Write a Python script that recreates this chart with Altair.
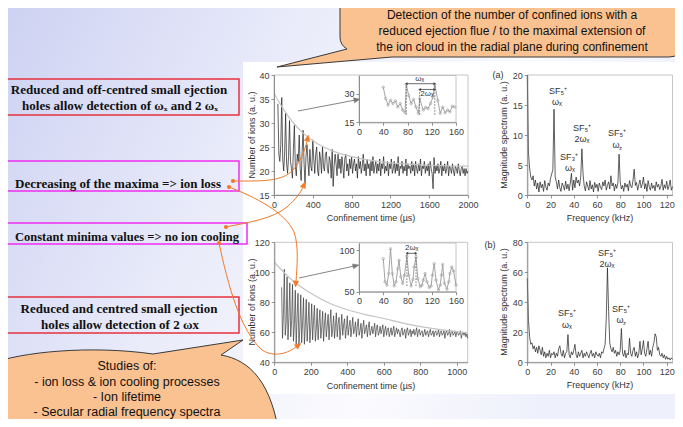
import altair as alt
import pandas as pd

W, H, M = 667, 411, 8  # chart size, page margin

# ---------------- data ----------------
# top-left: number of ions vs confinement time (us)
t_top = list(range(40, 2001, 10))
ions_top = [
    34.0, 23.5, 22.0, 25.5, 35.3, 22.5, 20.0, 24.0, 32.0, 21.5,
    19.5, 23.0, 30.5, 22.0, 20.5, 18.5, 24.5, 29.5, 21.0, 19.0,
    23.5, 22.0, 27.5, 20.5, 18.0, 24.0, 28.5, 21.5, 17.5, 23.0,
    25.5, 22.0, 19.0, 24.5, 21.0, 20.0, 26.5, 22.5, 19.5, 23.5,
    25.0, 20.0, 19.0, 24.0, 22.5, 19.5, 25.0, 21.0, 20.0, 23.5,
    24.0, 20.5, 19.5, 23.0, 22.0, 18.5, 24.5, 16.8, 21.0, 23.5,
    21.5, 19.0, 23.5, 20.5, 22.5, 19.5, 23.0, 21.0, 18.5, 22.5,
    23.5, 20.0, 21.5, 19.0, 22.5, 20.5, 23.0, 19.5, 21.5, 22.5,
    20.0, 21.5, 18.5, 23.0, 20.5, 22.0, 19.5, 21.0, 23.5, 20.0,
    21.5, 19.0, 22.5, 20.5, 21.5, 19.0, 22.0, 20.0, 23.0, 19.5,
    21.0, 22.0, 19.5, 21.5, 20.0, 22.5, 19.0, 21.5, 20.5, 23.0,
    19.5, 21.0, 20.0, 22.0, 19.0, 21.5, 20.5, 22.5, 19.5, 20.5,
    22.0, 19.5, 21.5, 20.0, 23.0, 19.0, 21.0, 20.5, 22.0, 19.5,
    21.0, 20.0, 22.5, 19.0, 21.5, 20.5, 21.0, 19.5, 22.0, 20.0,
    21.5, 19.0, 22.0, 20.5, 19.5, 21.5, 20.0, 22.5, 19.0, 21.0,
    20.5, 22.0, 19.5, 21.0, 20.0, 21.5, 19.0, 22.0, 20.5, 19.5,
    16.3, 22.8, 19.5, 21.0, 20.0, 21.5, 19.5, 20.5, 22.0, 19.0,
    21.0, 20.0, 21.5, 19.5, 20.5, 22.0, 19.0, 21.0, 20.5, 19.5,
    21.5, 20.0, 19.0, 21.0, 20.5, 19.5, 21.5, 20.0, 19.0, 20.5,
    21.0, 19.5, 20.5, 19.0, 20.5, 19.5, 20.0,
]
env_top_t = [0, 100, 200, 300, 400, 500, 600, 800, 1000, 1200, 1500, 2000]
env_top_v = [36.2, 32.8, 30.0, 27.9, 26.3, 25.1, 24.2, 23.0, 22.2, 21.7, 21.3, 21.0]

# top inset
ins_top_t = [40, 44, 48, 52, 56, 60, 64, 68, 72, 76, 78, 82, 86, 90, 94, 98, 100,
             106, 110, 114, 118, 122, 125, 130, 134, 138, 142, 146, 150, 154, 158]
ins_top_v = [33.4, 27.4, 24.0, 26.5, 24.8, 26.2, 23.0, 24.8, 21.4, 20.0, 34.8, 29.0,
             24.8, 27.0, 23.0, 19.7, 27.4, 21.4, 22.8, 22.2, 24.8, 28.3, 34.8, 26.5,
             19.7, 23.0, 20.0, 21.4, 20.5, 23.4, 23.0]

# top-right spectrum (a)
freq = list(range(0, 126))
mag_a = [
    20, 7, 4.5, 3, 2.5, 3.2, 1.5, 2.5, 1, 2,
    0.5, 2.2, 1.2, 1.8, 0.6, 2.4, 1.3, 0.8, 2, 1.5,
    2.8, 3.5, 4.2, 14.3, 3, 2.2, 1, 2.5, 1.2, 0.6,
    2, 1.5, 0.8, 2.3, 1, 1.8, 0.7, 2, 3.6, 0.8,
    2.5, 1.2, 3, 2, 2.5, 1.5, 3, 7.7, 3.5, 1.5,
    0.7, 2.2, 1.5, 0.8, 2.4, 1, 1.7, 0.5, 2.1, 1.2,
    1.8, 0.6, 2, 1.3, 0.9, 2.2, 1.5, 2.5, 0.8, 1.6,
    2.2, 1, 3.2, 1.5, 2, 0.7, 1.8, 1.1, 2, 6.8,
    2.2, 1, 1.6, 0.6, 2, 1.3, 1.8, 0.7, 2.4, 1.5,
    1.2, 2.5, 4.3, 1.6, 2.1, 0.8, 1.7, 2.5, 1.2, 1.8,
    3, 1, 1.9, 0.6, 2.4, 1.4, 0.8, 2, 1.1, 1.6,
    0.7, 2.2, 1.3, 1.8, 0.9, 1.5, 2.6, 0.8, 1.7, 1.1,
    2.3, 0.9, 1.5, 2.5, 0.8, 1.4,
]

# bottom-left: number of ions vs confinement time (us)
t_bot = list(range(40, 1061, 5))
ions_bot = [
    90, 56, 72, 102, 58, 66, 97, 55, 70, 93,
    57, 68, 92, 54, 65, 88, 52, 70, 86, 51,
    63, 85, 53, 67, 83, 52, 64, 82, 54, 66,
    80, 53, 63, 79, 55, 68, 78, 54, 62, 76,
    55, 66, 75, 56, 63, 74, 54, 65, 73, 57,
    64, 72, 55, 66, 75, 57, 62, 71, 56, 64,
    73, 57, 66, 70, 55, 63, 72, 58, 65, 69,
    56, 62, 71, 58, 64, 68, 57, 63, 70, 59,
    62, 67, 57, 64, 69, 58, 61, 66, 56, 63,
    68, 59, 62, 65, 57, 63, 67, 58, 61, 64,
    59, 62, 66, 57, 63, 65, 58, 60, 64, 59,
    62, 65, 57, 61, 64, 58, 62, 63, 57, 60,
    63, 58, 61, 64, 57, 60, 63, 59, 62, 60,
    57, 61, 63, 58, 60, 62, 56, 61, 63, 58,
    60, 62, 57, 61, 59, 62, 58, 60, 63, 57,
    61, 62, 58, 60, 61, 57, 59, 62, 58, 60,
    61, 57, 60, 62, 58, 59, 61, 57, 60, 61,
    58, 59, 62, 57, 60, 61, 58, 59, 61, 56,
    60, 61, 58, 59, 62, 57, 60, 61, 58, 59,
    61, 57, 60, 60, 58, 59, 61, 56, 59, 60,
    58, 60, 57, 59, 56,
]
env_bot_t = [0, 100, 200, 300, 400, 500, 600, 700, 800, 900, 1000, 1060]
env_bot_v = [106.7, 94.5, 86.0, 79.5, 75.0, 71.8, 69.2, 66.3, 63.8, 62.0, 60.5, 59.8]

# bottom inset
ins_bot_t = [40, 43, 46, 49, 52, 55, 58, 61, 64, 66, 69, 72, 75, 79, 82, 86, 89, 91, 94, 97,
             101, 104, 106, 109, 112, 116, 119, 121, 124, 127, 131, 134, 136, 138, 141,
             145, 148, 150, 153, 156, 160]
ins_bot_v = [90, 62, 58, 72, 102, 72, 57, 62, 78, 88, 68, 60, 70, 93, 70, 57, 65, 80, 92, 66,
             56, 58, 64, 72, 62, 55, 57, 70, 84, 64, 52, 58, 70, 83, 60,
             53, 62, 72, 80, 75, 58]

# bottom-right spectrum (b)
mag_b = [
    56, 28, 17, 12, 13, 9, 11, 7, 10, 6,
    11, 8, 5, 10, 4, 7, 3, 6, 4, 8,
    3, 6, 5, 7, 3, 6, 4, 9, 11, 6,
    4, 8, 3, 6, 7, 18.5, 5, 3, 7, 5,
    8, 12, 5, 3, 7, 4, 6, 8, 3, 6,
    4, 7, 5, 3, 6, 8, 4, 6, 3, 7,
    5, 4, 6, 3, 7, 6, 9, 12, 30, 63,
    34, 13, 9, 7, 10, 6, 8, 4, 7, 5,
    8, 22.5, 6, 4, 8, 3, 6, 5, 16, 6,
    4, 8, 10, 4, 7, 3, 6, 14, 5, 9,
    14.5, 6, 4, 9, 14, 5, 8, 4, 10, 13,
    19, 17, 8, 10, 5, 4, 6, 3, 5, 2,
    4, 2, 3, 1.5, 3, 2,
]

# ---------------- helpers ----------------
SANS = "Liberation Sans"
SERIF = "Liberation Serif"
ORANGE = "#f07a28"


def sc(domain, r0, r1):
    return alt.Scale(domain=domain, range=[r0 - M, r1 - M], nice=False, zero=False)


def ax_b(vals, y):
    return alt.Axis(orient="bottom", offset=(y - M) - H, values=vals, title=None, zindex=1,
                    format="d")


def ax_l(vals, x):
    return alt.Axis(orient="left", offset=-(x - M), values=vals, title=None, zindex=1,
                    format="d")


def line(t, v, xs, ys, color, sw, xa=None, ya=None, interp="linear"):
    df = pd.DataFrame({"t": t, "v": v})
    return alt.Chart(df).mark_line(color=color, strokeWidth=sw, interpolate=interp).encode(
        x=alt.X("t:Q", scale=xs, axis=xa), y=alt.Y("v:Q", scale=ys, axis=ya))


def dots(t, v, xs, ys, color, size):
    df = pd.DataFrame({"t": t, "v": v})
    return alt.Chart(df).mark_point(filled=False, color=color, size=size, strokeWidth=0.6,
                                    opacity=1).encode(
        x=alt.X("t:Q", scale=xs, axis=None), y=alt.Y("v:Q", scale=ys, axis=None))


def px_xy(df):
    df = df.copy()
    for c in df.columns:
        if c.startswith("x") or c.startswith("y"):
            df[c] = df[c] - M
    return df


def texts(rows, font=SANS, weight="normal", color="#222", angle=0, align="center"):
    df = px_xy(pd.DataFrame(rows, columns=["txt", "x", "y", "fs"]))
    return alt.Chart(df).mark_text(font=font, fontWeight=weight, color=color, angle=angle,
                                   align=align, baseline="middle").encode(
        x=alt.X("x:Q", scale=None, axis=None), y=alt.Y("y:Q", scale=None, axis=None),
        text="txt:N", size=alt.Size("fs:Q", scale=None, legend=None))


def rects(rows, fill, sw):
    df = px_xy(pd.DataFrame(rows, columns=["x", "x2", "y", "y2", "c"]))
    return alt.Chart(df).mark_rect(fill=fill, strokeWidth=sw).encode(
        x=alt.X("x:Q", scale=None, axis=None), x2="x2:Q",
        y=alt.Y("y:Q", scale=None, axis=None), y2="y2:Q",
        stroke=alt.Stroke("c:N", scale=None, legend=None))


def shape(path, fill="transparent", stroke="#000", sw=1.0):
    # custom symbol path in page pixel coordinates (size 4 -> unit scale)
    return alt.Chart(pd.DataFrame({"a": [0]})).mark_point(
        shape=path, size=4, filled=True, fill=fill, stroke=stroke, strokeWidth=sw,
        opacity=1, fillOpacity=1, strokeOpacity=1).encode(x=alt.value(-M), y=alt.value(-M))


# ---------------- scales ----------------
P1X, P1Y = sc([0, 2000], 274, 468), sc([15, 40], 195, 75)
P2X, P2Y = sc([0, 125], 527.3, 672.5), sc([0, 20], 195, 75)
P3X, P3Y = sc([0, 1060], 274.3, 467.7), sc([40, 120], 362.3, 242.3)
P4X, P4Y = sc([0, 125], 527.3, 672.5), sc([0, 80], 362.3, 242.3)
I1X, I1Y = sc([0, 160], 359, 456), sc([15, 39.5], 122.3, 75.5)
I3X, I3Y = sc([0, 160], 359, 456), sc([50, 109], 291.7, 243)

layers = []

# background
layers.append(alt.Chart(pd.DataFrame({"a": [0]})).mark_rect(
    color=alt.LinearGradient(gradient="linear", x1=0, y1=0, x2=1, y2=0.3,
                             stops=[alt.GradientStop(color="#cdd2f2", offset=0),
                                    alt.GradientStop(color="#e9ebfa", offset=0.4),
                                    alt.GradientStop(color="#fbfbfe", offset=0.75),
                                    alt.GradientStop(color="#eef0fb", offset=1)])).encode(
    x=alt.value(0), x2=alt.value(W), y=alt.value(0), y2=alt.value(H)))
layers.append(rects([(243, 690, 62, 394, "#ffffff")], "#ffffff", 0))

# left text boxes
layers.append(rects([(2, 239, 79, 115, "#e8303e"), (2, 239, 297, 333, "#e8303e"),
                     (3, 239, 161, 191, "#f02cf0"), (-2, 247, 223, 244, "#f02cf0")],
                    "transparent", 1.5))

# panel frames
layers.append(rects([(274, 468, 75, 195, "#b8b8b8"), (527.3, 672.5, 75, 195, "#b8b8b8"),
                     (274.3, 467.7, 242.3, 362.3, "#b8b8b8"),
                     (527.3, 672.5, 242.3, 362.3, "#b8b8b8")], "transparent", 0.8))

# panels
layers.append(line(t_top, ions_top, P1X, P1Y, "#1c1c1c", 0.7,
                   ax_b([0, 400, 800, 1200, 1600, 2000], 195), ax_l([15, 20, 25, 30, 35, 40], 274)))
layers.append(line(env_top_t, env_top_v, P1X, P1Y, "#c4c4c4", 1.2, interp="monotone"))
layers.append(line(freq, mag_a, P2X, P2Y, "#1c1c1c", 0.7,
                   ax_b([0, 20, 40, 60, 80, 100, 120], 195), ax_l([0, 5, 10, 15, 20], 527.3)))
layers.append(line(t_bot, ions_bot, P3X, P3Y, "#3c3c3c", 0.7,
                   ax_b([0, 200, 400, 600, 800, 1000], 362.3),
                   ax_l([40, 60, 80, 100, 120], 274.3)))
layers.append(line(env_bot_t, env_bot_v, P3X, P3Y, "#c4c4c4", 1.2, interp="monotone"))
layers.append(line(freq, mag_b, P4X, P4Y, "#1c1c1c", 0.7,
                   ax_b([0, 20, 40, 60, 80, 100, 120], 362.3), ax_l([0, 20, 40, 60, 80], 527.3)))

# insets
layers.append(rects([(359, 456, 75.5, 122.3, "#b8b8b8"), (359, 456, 243, 291.7, "#b8b8b8")],
                    "#ffffff", 0.8))
layers.append(line(ins_top_t, ins_top_v, I1X, I1Y, "#9a9a9a", 0.9,
                   ax_b([0, 40, 80, 120, 160], 122.3), ax_l([15, 30], 359)))
layers.append(dots(ins_top_t, ins_top_v, I1X, I1Y, "#9a9a9a", 6))
layers.append(line(ins_bot_t, ins_bot_v, I3X, I3Y, "#9a9a9a", 0.9,
                   ax_b([0, 40, 80, 120, 160], 291.7), ax_l([50, 100], 359)))
layers.append(dots(ins_bot_t, ins_bot_v, I3X, I3Y, "#9a9a9a", 6))


def vdash(rows, xs, ys):
    df = pd.DataFrame(rows, columns=["t", "a", "b"])
    return alt.Chart(df).mark_rule(color="#555", strokeWidth=0.8, strokeDash=[1.5, 1.5]).encode(
        x=alt.X("t:Q", scale=xs, axis=None), y=alt.Y("a:Q", scale=ys, axis=None), y2="b:Q")


def harrow(rows, xs, ys):
    df = pd.DataFrame(rows, columns=["t1", "t2", "v"])
    r = alt.Chart(df).mark_rule(color="#444", strokeWidth=0.8).encode(
        x=alt.X("t1:Q", scale=xs, axis=None), x2="t2:Q", y=alt.Y("v:Q", scale=ys, axis=None))
    heads = []
    for t1, t2, v in rows:
        heads += [(t1, v, "triangle-left"), (t2, v, "triangle-right")]
    hd = pd.DataFrame(heads, columns=["t", "v", "s"])
    h = alt.Chart(hd).mark_point(filled=True, color="#444", size=9, opacity=1).encode(
        x=alt.X("t:Q", scale=xs, axis=None), y=alt.Y("v:Q", scale=ys, axis=None),
        shape=alt.Shape("s:N", scale=None, legend=None))
    return [r, h]


def intext(rows, xs, ys):
    df = pd.DataFrame(rows, columns=["txt", "t", "v"])
    return alt.Chart(df).mark_text(font=SANS, fontSize=8, color="#333").encode(
        x=alt.X("t:Q", scale=xs, axis=None), y=alt.Y("v:Q", scale=ys, axis=None), text="txt:N")


layers.append(vdash([(78, 19, 34.8), (100, 19, 32.2), (125, 19, 34.8)], I1X, I1Y))
layers += harrow([(78, 125, 35.2), (100, 125, 32.2)], I1X, I1Y)
layers.append(intext([("ωₓ", 100, 37.6), ("2ωₓ", 112, 29.8)], I1X, I1Y))
layers.append(vdash([(79, 57, 96.5), (94, 57, 96.5)], I3X, I3Y))
layers += harrow([(79, 94, 96.5)], I3X, I3Y)
layers.append(intext([("2ωₓ", 87, 102.5)], I3X, I3Y))

# grey arrows towards the insets
layers.append(shape("M 298 111 L 354 100.3 M 299 278 L 353 266.3", stroke="#777", sw=0.9))
layers.append(shape("M 359.9 99.2 L 354.5 102.75 L 353.5 97.85 Z M 358.9 265 L 353.5 268.7 L 352.5 263.9 Z",
                    fill="#777", stroke="#777", sw=0.5))

# spectrum labels
layers.append(texts([
    ("(a)", 498, 75, 9), ("(b)", 490, 245, 9),
    ("SF₅⁺", 558, 91, 9), ("ωₓ", 557, 102, 9),
    ("SF₅⁺", 582, 128, 9), ("2ωₓ", 582, 139, 9),
    ("SF₃⁺", 569, 157, 9), ("ωₓ", 570, 168, 9),
    ("SF₅⁺", 617, 133, 9), ("ω", 616, 145, 9), ("z", 620.5, 148, 6),
    ("SF₅⁺", 567, 313, 9), ("ωₓ", 567, 325, 9),
    ("SF₅⁺", 607, 253, 9), ("2ωₓ", 607, 264, 9),
    ("SF₅⁺", 621, 309, 9), ("ω", 620, 320, 9), ("z", 624.5, 323, 6),
], color="#333"))

# axis titles
layers.append(texts([("Confinement time (µs)", 371, 218, 9), ("Frequency (kHz)", 600, 218, 9),
                     ("Confinement time (µs)", 371, 386, 9), ("Frequency (kHz)", 600, 385, 9)],
                    color="#333"))
layers.append(texts([("Number of ions (a. u.)", 252, 135, 9), ("Number of ions (a. u.)", 252, 302, 9),
                     ("Magnitude spectrum (a. u.)", 504, 135, 9),
                     ("Magnitude spectrum (a. u.)", 504, 302, 9)], color="#333", angle=270))

# box texts
layers.append(texts([
    ("Reduced and off-centred small ejection", 119, 90, 13),
    ("holes allow detection of ωₓ and 2 ωₓ", 120, 106, 13),
    ("Decreasing of the maxima => ion loss", 118, 183.5, 13),
    ("Constant minima values => no ion cooling", 127, 236.5, 12.5),
    ("Reduced and centred small ejection", 119, 309, 13),
    ("holes allow detection of 2 ωx", 120, 325, 13),
], font=SERIF, weight="bold", color="#111"))

# callout bubbles
layers.append(shape("M 352 -10 L 669 -10 Q 681 -10 681 2 L 681 45 Q 681 57 669 57 L 392 57 "
                    "L 277 67 L 347 49 Q 340 45 340 37 L 340 2 Q 340 -10 352 -10 Z",
                    fill="#fac191", stroke="#3a3a3a", sw=1))
layers.append(shape("M -10 364 C 20 352 90 345 153 354 L 243 340 L 221 355 "
                    "C 250 360 272 382 280 440 L -10 440 Z",
                    fill="#fac191", stroke="#3a3a3a", sw=1))
layers.append(texts([
    ("Detection of the number of confined ions with a", 512, 15, 12),
    ("reduced ejection flue / to the maximal extension of", 512, 31, 12),
    ("the ion cloud in the radial plane during confinement", 512, 47, 12),
    ("Studies of:", 127, 366, 12.5),
    ("- ion loss & ion cooling processes", 127, 381.5, 12.5),
    ("- Ion lifetime", 127, 396.5, 12.5),
    ("- Secular radial frequency spectra", 127, 411.5, 12.5),
], color="#111"))

# orange connectors
layers.append(shape(
    "M 233 181 C 262 181 282 182 293 170 C 301 161 305 150 307 141 "
    "M 229 187 C 255 197 285 212 294 232 C 299 245 297 268 296 281 "
    "M 226 227 C 250 222 272 219 287 207 C 296 199 301 192 303 187 "
    "M 219 243 C 228 285 240 330 262 350 C 275 358 288 353 296 347",
    stroke=ORANGE, sw=1))
layers.append(shape(
    "M 308.3 135.1 L 309.7 141.6 L 304.3 140.4 Z "
    "M 295.5 287 L 298.8 281.2 L 293.2 280.8 Z "
    "M 305.5 181.5 L 305.4 188.5 L 300.2 186.5 Z "
    "M 300.8 343.4 L 297.7 349.2 L 294.3 344.8 Z",
    fill=ORANGE, stroke=ORANGE, sw=0.5))
dot_df = px_xy(pd.DataFrame({"x": [233, 229, 226, 219], "y": [181, 187, 227, 243]}))
layers.append(alt.Chart(dot_df).mark_point(filled=True, color=ORANGE, size=18, opacity=1).encode(
    x=alt.X("x:Q", scale=None, axis=None), y=alt.Y("y:Q", scale=None, axis=None)))

chart = alt.layer(*layers).resolve_scale(x="independent", y="independent").resolve_axis(
    x="independent", y="independent").properties(
    width=W, height=H, autosize=alt.AutoSizeParams(type="none"), padding=0
).configure_axis(
    labelFont=SANS, labelFontSize=9, labelColor="#404040", domainColor="#7a7a7a",
    tickColor="#7a7a7a", domainWidth=0.8, tickWidth=0.8, tickSize=3, labelPadding=2,
    labelFlush=False, labelOverlap=False, grid=False
).configure_view(stroke=None)

chart.save("out.html", embed_options={"renderer": "svg", "actions": False})
